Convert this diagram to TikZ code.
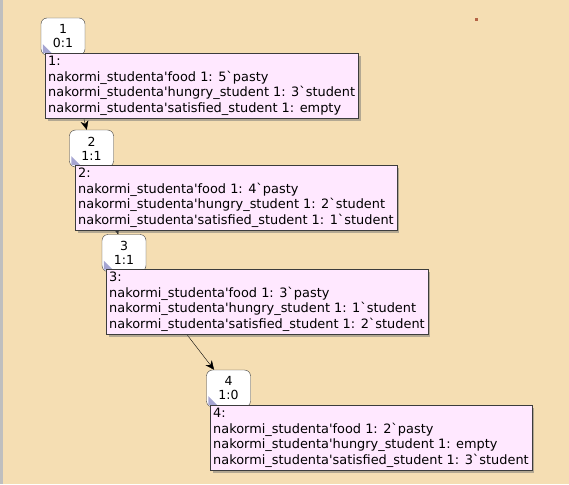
\documentclass[tikz,border=0pt]{standalone}
\usepackage{fontspec}
\setmainfont{DejaVu Sans}[Ligatures=TeXOff]
\usetikzlibrary{arrows.meta,shadows,positioning}
\definecolor{bgwheat}{RGB}{245,222,179}
\definecolor{tipfill}{RGB}{255,232,255}
\definecolor{cornermark}{RGB}{165,165,210}
\definecolor{edgegray}{RGB}{60,60,60}
\definecolor{dotbrown}{RGB}{180,100,70}
\newcommand{\nk}{nakormi\_studenta'}
\newcommand{\bq}{`}
\tikzset{
  state/.style={draw=edgegray, fill=white, rounded corners=6pt,
    minimum width=44pt, minimum height=37pt, inner sep=0pt, align=center,
    font=\fontsize{12.5}{14}\selectfont},
  tooltip/.style={draw=edgegray, fill=tipfill, anchor=north west, align=left,
    inner xsep=3pt, inner ysep=3pt, font=\fontsize{12.9}{15.6}\selectfont,
    drop shadow={shadow xshift=2.5pt, shadow yshift=-2.5pt, fill=black!55}},
  succ/.style={-{Stealth[length=9pt,width=8pt]}, black, thin},
}
\begin{document}
\begin{tikzpicture}[x=1pt, y=-1pt]
  % canvas
  \fill[bgwheat] (0,0) rectangle (569,484);
  \fill[black!25] (0,0) rectangle (3,484);
  \useasboundingbox (0,0) rectangle (569,484);
  \fill[dotbrown] (474.5,18.5) rectangle (477.5,21.5);

  % states
  \node[state] (s1) at (63,36.5) {1\\0:1};
  \node[state] (s2) at (91.5,148.5) {2\\1:1};
  \node[state] (s3) at (124,253) {3\\1:1};
  \node[state] (s4) at (228.5,388.5) {4\\1:0};

  % corner marks
  \foreach \s in {s1,s2,s3,s4}
    \fill[cornermark] (\s.south west) ++(2pt,2pt) -- ++(0pt,9pt) -- ++(9pt,-9pt) -- cycle;

  % successor arcs
  \draw[succ] (s1) -- (s2);
  \draw[succ] (s2) -- (s3);
  \draw[succ] (s3) -- (s4);

  % markings
  \node[tooltip] (t1) at (45,53) {1:\\\nk food 1: 5\bq pasty\\\nk hungry\_student 1: 3\bq student\\\nk satisfied\_student 1: empty};
  \node[tooltip] (t2) at (75,165) {2:\\\nk food 1: 4\bq pasty\\\nk hungry\_student 1: 2\bq student\\\nk satisfied\_student 1: 1\bq student};
  \node[tooltip] (t3) at (106,269) {3:\\\nk food 1: 3\bq pasty\\\nk hungry\_student 1: 1\bq student\\\nk satisfied\_student 1: 2\bq student};
  \node[tooltip] (t4) at (210,405) {4:\\\nk food 1: 2\bq pasty\\\nk hungry\_student 1: empty\\\nk satisfied\_student 1: 3\bq student};
\end{tikzpicture}
\end{document}
